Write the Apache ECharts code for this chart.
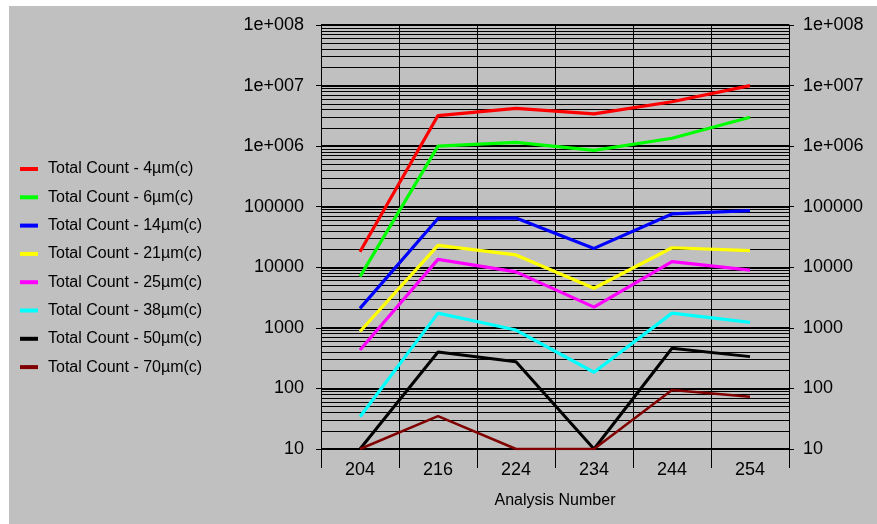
<!DOCTYPE html>
<html>
<head>
<meta charset="utf-8">
<script src="https://cdn.jsdelivr.net/npm/echarts@6/dist/echarts.min.js"></script>
<style>
html,body{margin:0;padding:0;background:#ffffff;}
#chart{width:877px;height:524px;}
</style>
</head>
<body>
<div id="chart"></div>
<script>
var categories = ['204', '216', '224', '234', '244', '254'];
var seriesNames = [
  'Total Count - 4\u00b5m(c)',
  'Total Count - 6\u00b5m(c)',
  'Total Count - 14\u00b5m(c)',
  'Total Count - 21\u00b5m(c)',
  'Total Count - 25\u00b5m(c)',
  'Total Count - 38\u00b5m(c)',
  'Total Count - 50\u00b5m(c)',
  'Total Count - 70\u00b5m(c)'
];
var count4 = [18000, 3200000, 4200000, 3400000, 5400000, 10000000];
var count6 = [7000, 1000000, 1150000, 850000, 1350000, 3000000];
var count14 = [2100, 64000, 65000, 20500, 76000, 86000];
var count21 = [870, 23000, 16000, 4500, 21000, 18800];
var count25 = [430, 13500, 8400, 2200, 12400, 9000];
var count38 = [34, 1750, 920, 185, 1750, 1230];
var count50 = [10, 400, 275, 10, 460, 335];
var count70 = [10, 35, 10, 10, 94, 73];
var yTickLabels = ['10', '100', '1000', '10000', '100000', '1e+006', '1e+007', '1e+008'];

var seriesData = [count4, count6, count14, count21, count25, count38, count50, count70];
var colors = ['#ff0000', '#00ff00', '#0000ff', '#ffff00', '#ff00ff', '#00ffff', '#000000', '#800000'];
var widths = [3.2, 3.2, 3.2, 3.2, 3.2, 3.2, 3, 2.5];

// minor grid lines at 2..9 x each decade
var minorLines = [];
for (var d = 10; d < 1e8; d *= 10) {
  for (var m = 2; m <= 9; m++) minorLines.push({ yAxis: d * m });
}

var FONT = 'Arial, "Liberation Sans", sans-serif';

function yFmt(v) {
  var i = Math.round(Math.log(v) / Math.LN10) - 1;
  return yTickLabels[i] !== undefined ? yTickLabels[i] : '';
}

var series = [];
seriesData.forEach(function (arr, i) {
  series.push({
    name: seriesNames[i],
    type: 'line',
    data: arr,
    symbol: 'none',
    z: 5,
    lineStyle: { color: colors[i], width: widths[i] },
    itemStyle: { color: colors[i] }
  });
});
series.push({
  name: '_grid',
  type: 'line',
  data: [],
  silent: true,
  z: 1,
  markLine: {
    silent: true,
    symbol: ['none', 'none'],
    animation: false,
    label: { show: false },
    lineStyle: { color: '#000000', width: 1, type: 'solid' },
    emphasis: { disabled: true },
    data: minorLines
  }
});

var chart = echarts.init(document.getElementById('chart'), null, { renderer: 'canvas' });
chart.setOption({
  animation: false,
  backgroundColor: '#ffffff',
  graphic: [{
    type: 'rect',
    left: 9, top: 6,
    shape: { width: 868, height: 518 },
    style: { fill: '#c0c0c0' },
    z: -10,
    silent: true
  }],
  color: colors,
  legend: {
    orient: 'vertical',
    left: 15,
    top: 156,
    itemGap: 12.3,
    itemWidth: 18,
    itemHeight: 4,
    icon: 'rect',
    data: seriesNames,
    textStyle: { fontFamily: FONT, fontSize: 16, color: '#000000', padding: [0, 0, 0, 5] }
  },
  grid: { left: 321, right: 88, top: 25, bottom: 75, containLabel: false },
  xAxis: {
    type: 'category',
    data: categories,
    boundaryGap: true,
    name: 'Analysis Number',
    nameLocation: 'middle',
    nameGap: 44,
    nameTextStyle: { fontFamily: FONT, fontSize: 16, color: '#000000' },
    axisLine: { show: true, lineStyle: { color: '#000000', width: 1 } },
    axisTick: { show: true, length: 19, lineStyle: { color: '#000000', width: 1 } },
    axisLabel: { fontFamily: FONT, fontSize: 18, color: '#000000', margin: 12 },
    splitLine: { show: true, lineStyle: { color: '#000000', width: 1 } }
  },
  yAxis: [{
    type: 'log',
    logBase: 10,
    min: 10,
    max: 100000000,
    position: 'left',
    axisLine: { show: true, lineStyle: { color: '#000000', width: 1 } },
    axisTick: { show: true, length: 5, lineStyle: { color: '#000000' } },
    axisLabel: { fontFamily: FONT, fontSize: 18, color: '#000000', margin: 17, formatter: yFmt },
    splitLine: { show: true, lineStyle: { color: '#000000', width: 2 } }
  }, {
    type: 'log',
    logBase: 10,
    min: 10,
    max: 100000000,
    position: 'right',
    axisLine: { show: true, lineStyle: { color: '#000000', width: 1 } },
    axisTick: { show: true, length: 5, lineStyle: { color: '#000000' } },
    axisLabel: { fontFamily: FONT, fontSize: 18, color: '#000000', margin: 14, formatter: yFmt },
    splitLine: { show: false }
  }],
  series: series
});
</script>
</body>
</html>
